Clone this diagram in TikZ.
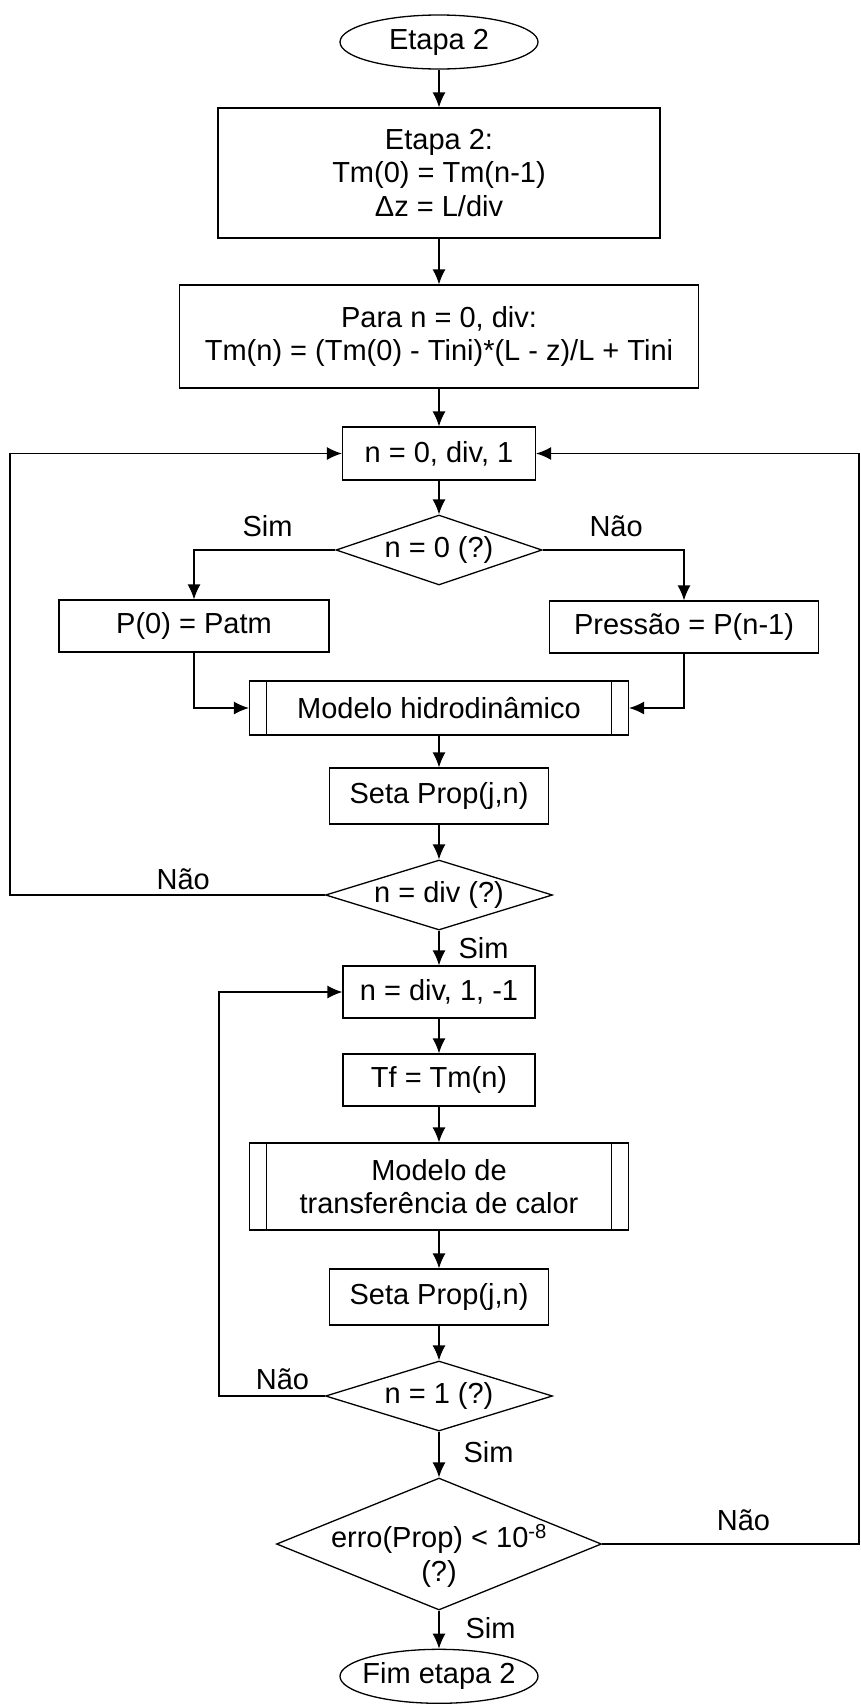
\documentclass[tikz,border=0pt]{standalone}
\usepackage{fontspec}
\setmainfont{Liberation Sans}
\usepackage{tikz}
\usetikzlibrary{arrows.meta,positioning,shapes.geometric}

\begin{document}
\begin{tikzpicture}[x=1pt,y=-1pt,>={Latex[length=15pt,width=13pt]},line width=1.3pt,every node/.style={font=\fontsize{29}{33.5}\selectfont}]
\tikzset{terminal/.style={draw,ellipse,inner sep=0pt,minimum width=198pt,minimum height=54pt},caixa/.style={draw,rectangle,inner sep=0pt,align=center},subproc/.style={caixa,path picture={\draw ([xshift=17pt]path picture bounding box.north west)--([xshift=17pt]path picture bounding box.south west) ([xshift=-17pt]path picture bounding box.north east)--([xshift=-17pt]path picture bounding box.south east);}},decisao/.style={draw,diamond,inner sep=0pt,aspect=3.3,align=center,minimum height=70pt},rotulo/.style={inner sep=0pt}}
\useasboundingbox (0,0) rectangle (861,1706);
\node[terminal] (inicio) at (439,42) {Etapa 2};
\node[caixa,below=37.7pt of inicio,minimum width=442pt,minimum height=130pt] (etapa) {Etapa 2:\\Tm(0) = Tm(n-1)\\Δz = L/div};
\node[caixa,below=45.7pt of etapa,minimum width=519pt,minimum height=103pt] (perfil) {Para n = 0, div:\\Tm(n) = (Tm(0) - Tini)*(L - z)/L + Tini};
\node[caixa,below=37.7pt of perfil,minimum width=193pt,minimum height=53pt] (laco1) {n = 0, div, 1};
\node[decisao,below=33.7pt of laco1,minimum width=206pt] (teste0) {n = 0 (?)};
\node[caixa,minimum width=270pt,minimum height=52pt] (pzero) at (194,626) {P(0) = Patm};
\node[caixa,minimum width=269pt,minimum height=52pt] (ppress) at (684,627) {Pressão = P(n-1)};
\node[subproc,below=94.7pt of teste0,minimum width=379pt,minimum height=54pt] (hidro) {Modelo hidrodinâmico};
\node[caixa,below=31.7pt of hidro,minimum width=219pt,minimum height=56pt] (seta1) {Seta Prop(j,n)};
\node[decisao,below=34.7pt of seta1,minimum width=227pt] (testediv) {n = div (?)};
\node[caixa,below=34.7pt of testediv,minimum width=192pt,minimum height=52pt] (laco2) {n = div, 1, -1};
\node[caixa,below=34.7pt of laco2,minimum width=192pt,minimum height=52pt] (tf) {Tf = Tm(n)};
\node[subproc,below=35.7pt of tf,minimum width=379pt,minimum height=87pt] (calor) {Modelo de\\transferência de calor};
\node[caixa,below=37.7pt of calor,minimum width=219pt,minimum height=56pt] (seta2) {Seta Prop(j,n)};
\node[decisao,below=34.7pt of seta2,minimum width=227pt] (teste1) {n = 1 (?)};
\node[decisao,below=45.7pt of teste1,aspect=2.46,inner xsep=-30pt,inner ysep=-14pt,text height=80pt,minimum width=325pt,minimum height=132pt] (erro) {erro(Prop) < 10\textsuperscript{-8}\\(?)};
\node[terminal,below=38pt of erro,inner xsep=-12pt] (fim) {Fim etapa 2};
\coordinate (esq) at (10,0);
\coordinate (esq2) at (219,0);
\coordinate (dir) at (859,0);
% fluxo principal
\draw[->] (inicio) -- (etapa);
\draw[->] (etapa) -- (perfil);
\draw[->] (perfil) -- (laco1);
\draw[->] (laco1) -- (teste0);
\draw[->] (teste0.west) -| node[rotulo,pos=0.24,above=13pt] {Sim} (pzero.north);
\draw[->] (teste0.east) -| node[rotulo,pos=0.26,above=13pt] {Não} (ppress.north);
\draw[->] (pzero.south) |- (hidro.west);
\draw[->] (ppress.south) |- (hidro.east);
\draw[->] (hidro) -- (seta1);
\draw[->] (seta1) -- (testediv);
\draw[->] (testediv.west) -- node[rotulo,pos=0.45,above=5pt] {Não} (testediv.west -| esq) |- (laco1.west);
\draw[->] (testediv) -- node[rotulo,right=19pt] {Sim} (laco2);
\draw[->] (laco2) -- (tf);
\draw[->] (tf) -- (calor);
\draw[->] (calor) -- (seta2);
\draw[->] (seta2) -- (teste1);
\draw[->] (teste1.west) -- node[rotulo,pos=0.4,above=6pt] {Não} (teste1.west -| esq2) |- (laco2.west);
\draw[->] (teste1) -- node[rotulo,pos=0.45,right=24pt] {Sim} (erro);
\draw[->] (erro.east) -- node[rotulo,pos=0.55,above=13pt] {Não} (erro.east -| dir) |- (laco1.east);
\draw[->] (erro) -- node[rotulo,pos=0.45,right=26pt] {Sim} (fim);
\end{tikzpicture}
\end{document}
